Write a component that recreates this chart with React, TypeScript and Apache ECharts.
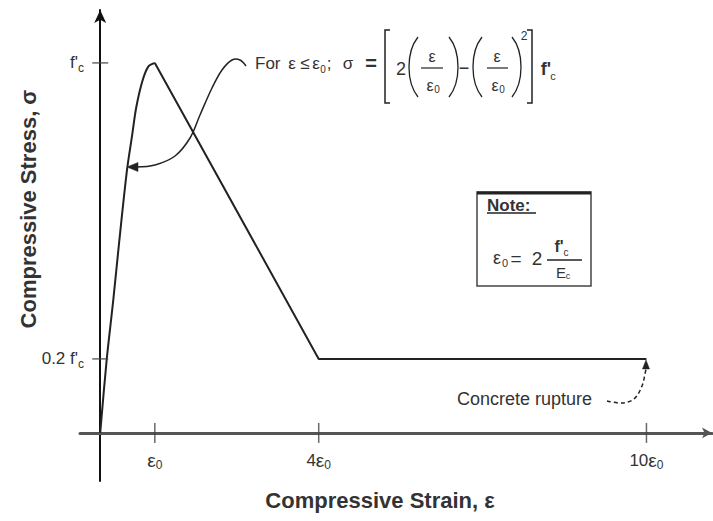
import React, { useEffect, useRef } from 'react';
import * as echarts from 'echarts';

// Strain in multiples of ε0, stress in multiples of f'c
const strainRise = [0, 0.12, 0.24, 0.35, 0.49, 0.58, 0.66, 0.77, 0.88, 1.0];
const stressRise = [0, 0.2, 0.36, 0.52, 0.71, 0.8, 0.88, 0.95, 0.99, 1.0];
const strainSoft = [1, 4, 10];
const stressSoft = [1, 0.2, 0.2];

const strainTicks = [1, 4, 10];
const strainTickCoeffs = ['', '4', '10'];
const stressTicks = [0.2, 1];
const stressTickPrefixes = ["0.2 f'", "f'"];

const FONT = "'Liberation Sans Narrow', 'Liberation Sans', Arial, sans-serif";
const INK = '#222';
const TEXT = '#333';

function txt(text: string, x: number, y: number, size: number, extra: any = {}) {
  return {
    type: 'text',
    x,
    y,
    silent: true,
    style: {
      text,
      fontSize: size,
      fontFamily: FONT,
      fill: TEXT,
      align: extra.align || 'center',
      textAlign: extra.align || 'center',
      verticalAlign: 'middle',
      textVerticalAlign: 'middle',
      fontWeight: extra.weight || 'normal',
    },
    rotation: extra.rotation || 0,
  };
}

function seg(x1: number, y1: number, x2: number, y2: number, w = 1.5) {
  return { type: 'line', silent: true, shape: { x1, y1, x2, y2 }, style: { stroke: INK, lineWidth: w } };
}

function paren(x1: number, xc: number, top: number, bottom: number) {
  const h = bottom - top;
  return {
    type: 'bezierCurve',
    silent: true,
    shape: { x1, y1: top, cpx1: xc, cpy1: top + h * 0.25, cpx2: xc, cpy2: top + h * 0.75, x2: x1, y2: bottom },
    style: { stroke: INK, lineWidth: 1.3, fill: 'none' },
  };
}

function poly(points: number[][], w = 1.5, dash?: number[]) {
  return {
    type: 'polyline',
    silent: true,
    shape: { points, smooth: 0.35 },
    style: { stroke: INK, lineWidth: w, fill: 'none', lineDash: dash },
  };
}

function tri(points: number[][]) {
  return { type: 'polygon', silent: true, shape: { points }, style: { fill: INK, stroke: INK, lineWidth: 0.5 } };
}

const formula = [
  txt('For', 255, 63, 17, { align: 'left' }),
  txt('ε', 292, 63, 17),
  txt('≤', 305, 63, 17),
  txt('ε', 316, 63, 17),
  txt('0', 323, 69, 10),
  txt(';', 329, 63, 17),
  txt('σ', 348, 63, 17),
  txt('=', 371, 63, 20, { weight: 'bold' }),
  { type: 'polyline', silent: true, shape: { points: [[390, 30], [385, 30], [385, 103], [390, 103]] }, style: { stroke: INK, lineWidth: 1.5, fill: 'none' } },
  txt('2', 401, 69, 18),
  paren(418, 406, 37, 97),
  txt('ε', 432, 56, 16),
  seg(421, 68, 443, 68, 1.2),
  txt('ε', 430, 85, 16),
  txt('0', 437, 89, 10),
  paren(449, 461, 37, 97),
  txt('−', 464, 68, 18),
  paren(482, 470, 37, 97),
  txt('ε', 497, 56, 16),
  seg(487, 68, 508, 68, 1.2),
  txt('ε', 495, 85, 16),
  txt('0', 502, 89, 10),
  paren(512, 524, 37, 97),
  txt('2', 524, 36, 12),
  { type: 'polyline', silent: true, shape: { points: [[527, 30], [532, 30], [532, 103], [527, 103]] }, style: { stroke: INK, lineWidth: 1.5, fill: 'none' } },
  txt("f'", 546, 69, 18, { weight: 'bold' }),
  txt('c', 553, 76, 11),
];

const leaders = [
  poly([[246, 66], [240, 60], [232, 60], [222, 70], [212, 88], [200, 115], [190, 138], [175, 156], [155, 165], [136, 167]]),
  tri([[127, 167], [138, 162.5], [138, 171.5]]),
  txt('Concrete rupture', 457, 399, 18, { align: 'left' }),
  poly([[607, 401], [622, 403], [634, 399], [642, 386], [645, 374], [646, 369]], 1.5, [4, 3]),
  tri([[646, 360], [642.5, 369], [649.5, 369]]),
];

const note = [
  { type: 'rect', silent: true, shape: { x: 477, y: 192, width: 114, height: 94 }, style: { stroke: '#444', lineWidth: 1.5, fill: 'none' } },
  seg(477, 193, 591, 193, 3),
  txt('Note:', 487, 205, 17, { align: 'left', weight: 'bold' }),
  seg(487, 213, 536, 213, 1.5),
  txt('ε', 497, 258, 18),
  txt('0', 505, 263, 11),
  txt('=', 516, 258, 19),
  txt('2', 537, 258, 19),
  txt("f'", 559, 246, 16, { weight: 'bold' }),
  txt('c', 566, 252, 10),
  seg(547, 260, 582, 260, 1.5),
  txt('E', 561, 272, 15),
  txt('c', 568, 276, 9),
];

const titles = [
  txt('Compressive Strain, ε', 380, 500, 22, { weight: 'bold' }),
  txt('Compressive Stress, σ', 28, 209, 22, { weight: 'bold', rotation: Math.PI / 2 }),
];

const labelRich = {
  m: { fontSize: 17, fontFamily: FONT, color: TEXT },
  e: { fontSize: 19, fontFamily: FONT, color: TEXT },
  s: { fontSize: 12, fontFamily: FONT, color: TEXT, verticalAlign: 'bottom', padding: [10, 0, 0, 0] },
};

export default function App() {
  const ref = useRef<HTMLDivElement>(null);

  useEffect(() => {
    const chart = echarts.init(ref.current!, null, { renderer: 'svg' });
    chart.setOption({
      animation: false,
      backgroundColor: '#ffffff',
      grid: { left: 80, right: 1, top: 10, bottom: 40, containLabel: false },
      xAxis: {
        type: 'value',
        min: -0.37,
        max: 11.2,
        axisLine: {
          show: true,
          onZero: true,
          symbol: ['none', 'arrow'],
          symbolSize: [8, 10],
          lineStyle: { color: '#555', width: 3 },
        },
        axisTick: { show: false },
        splitLine: { show: false },
        axisLabel: {
          customValues: strainTicks,
          margin: -32,
          formatter: (v: number) => {
            const i = strainTicks.indexOf(v);
            const c = i >= 0 ? strainTickCoeffs[i] : '';
            return (c ? `{m|${c}}` : '') + '{e|ε}{s|0}';
          },
          rich: labelRich,
        },
      },
      yAxis: {
        type: 'value',
        min: -0.13,
        max: 1.143,
        axisLine: {
          show: true,
          onZero: true,
          symbol: ['none', 'arrow'],
          symbolSize: [9, 13],
          lineStyle: { color: '#111', width: 2 },
        },
        axisTick: { show: false },
        splitLine: { show: false },
        axisLabel: {
          customValues: stressTicks,
          margin: -4,
          formatter: (v: number) => {
            const i = stressTicks.indexOf(v);
            return `{m|${i >= 0 ? stressTickPrefixes[i] : ''}}{s|c}`;
          },
          rich: labelRich,
        },
      },
      series: [
        {
          name: 'Ascending branch',
          type: 'line',
          smooth: 0.3,
          showSymbol: false,
          silent: true,
          lineStyle: { color: INK, width: 2 },
          data: strainRise.map((x, i) => [x, stressRise[i]]),
          z: 3,
        },
        {
          name: 'Softening and residual',
          type: 'line',
          showSymbol: false,
          silent: true,
          lineStyle: { color: INK, width: 2 },
          data: strainSoft.map((x, i) => [x, stressSoft[i]]),
          z: 3,
        },
        {
          name: 'Strain ticks',
          type: 'scatter',
          silent: true,
          symbol: 'rect',
          symbolSize: [1.5, 20],
          itemStyle: { color: '#444' },
          data: strainTicks.map((x) => [x, 0]),
          z: 4,
        },
        {
          name: 'Stress ticks',
          type: 'scatter',
          silent: true,
          symbol: 'rect',
          symbolSize: [16, 1.5],
          itemStyle: { color: '#444' },
          data: stressTicks.map((y) => [0, y]),
          z: 4,
        },
      ],
      graphic: [...formula, ...leaders, ...note, ...titles],
    });
    return () => chart.dispose();
  }, []);

  return (
    <div
      ref={ref}
      style={{ position: 'fixed', left: 0, top: 0, width: 713, height: 521, background: '#fff' }}
    />
  );
}
